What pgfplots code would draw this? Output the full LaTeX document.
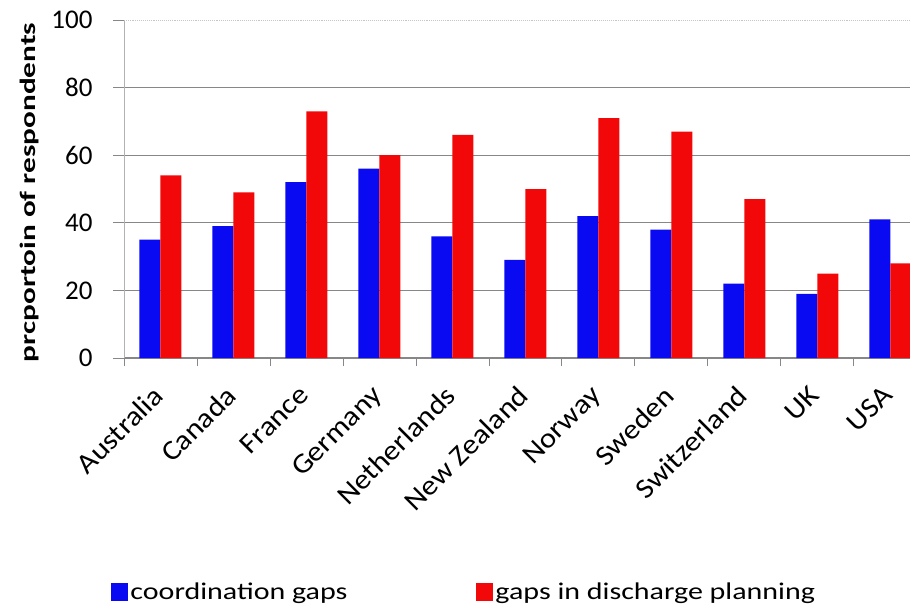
\documentclass[border=0pt]{standalone}
\usepackage{fontspec}
\setmainfont{Carlito}
\newfontfamily\legfont[FakeStretch=1.25]{Carlito}
\newfontfamily\ylabfont[FakeStretch=1.42]{Carlito}
\newfontfamily\xlabfont[FakeStretch=1.1]{Carlito}
\usepackage{pgfplots}
\pgfplotsset{compat=1.18}
\definecolor{barblue}{RGB}{10,10,242}
\definecolor{barred}{RGB}{242,8,8}
\definecolor{gridgray}{RGB}{135,135,135}
\begin{document}
\begin{tikzpicture}[x=1pt,y=1pt]
\useasboundingbox (0,0) rectangle (910,-610);
\begin{axis}[
  at={(124pt,-358pt)}, anchor=south west,
  scale only axis, width=786pt, height=338pt,
  xmin=-0.5, xmax=10.27, ymin=0, ymax=100,
  ybar=0pt, bar width=21pt,
  axis x line*=bottom, axis y line*=left,
  x axis line style={gridgray, line width=1pt},
  y axis line style={gray!60, line width=0.8pt},
  tick align=outside,
  major tick length=11pt, minor tick length=8pt,
  xtick={0,...,10},
  xticklabels={Australia,Canada,France,Germany,Netherlands,New Zealand,Norway,Sweden,Switzerland,UK,USA},
  major x tick style={draw=none},
  minor xtick={-0.5,0.5,...,9.5},
  minor x tick style={gridgray, line width=0.8pt},
  ytick={0,20,...,80},
  y tick style={gridgray, line width=0.8pt},
  extra y ticks={100},
  extra y tick style={grid style={densely dotted, gray!45, line width=1pt}},
  ymajorgrids,
  grid style={gridgray, line width=1.1pt},
  /pgf/number format/assume math mode=true,
  yticklabel style={font=\fontsize{27}{27}\selectfont, xshift=-17pt},
  xticklabel style={font=\xlabfont\fontsize{28}{28}\selectfont, rotate=45, anchor=north east, inner sep=0pt, yshift=-4pt, xshift=-17pt},
  ylabel={\ylabfont\bfseries prcportoin of respondents},
  ylabel style={font=\fontsize{22}{22}\selectfont, at={(axis description cs:-0.12,0.49)}, anchor=center},
  legend style={at={(axis description cs:-0.02,-0.692)}, anchor=west, draw=none, fill=none,
    font=\legfont\fontsize{24}{24}\selectfont, legend columns=2,
    /tikz/every even column/.append style={column sep=127pt}},
  legend image code/.code={\fill[#1] (0pt,-9pt) rectangle (17pt,9pt);},
]
\addplot[fill=barblue, draw=none] coordinates {(0,35) (1,39) (2,52) (3,56) (4,36) (5,29) (6,42) (7,38) (8,22) (9,19) (10,41)};
\addplot[fill=barred, draw=none] coordinates {(0,54) (1,49) (2,73) (3,60) (4,66) (5,50) (6,71) (7,67) (8,47) (9,25) (10,28)};
\legend{coordination gaps, gaps in discharge planning}
\end{axis}
\end{tikzpicture}
\end{document}
